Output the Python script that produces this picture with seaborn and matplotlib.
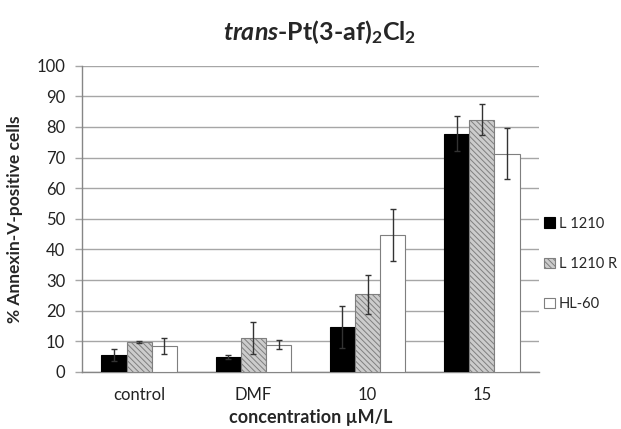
import matplotlib
matplotlib.use("Agg")
import matplotlib.pyplot as plt
import seaborn as sns
import pandas as pd
import numpy as np
from matplotlib.patches import Patch

categories = ["control", "DMF", "10", "15"]
series = ["L 1210", "L 1210 R", "HL-60"]
l1210 = [5.5, 4.8, 14.6, 77.8]
l1210_err = [2.0, 0.6, 6.8, 5.6]
l1210r = [9.9, 11.0, 25.4, 82.4]
l1210r_err = [0.3, 5.3, 6.4, 5.0]
hl60 = [8.5, 8.9, 44.7, 71.3]
hl60_err = [2.5, 1.5, 8.5, 8.3]
yticks = list(range(0, 101, 10))

sns.set_theme(style="white")
plt.rcParams['font.family'] = ['Lato', 'DejaVu Sans']
plt.rcParams['mathtext.fontset'] = 'custom'
plt.rcParams['mathtext.rm'] = 'Lato:bold'
plt.rcParams['mathtext.bf'] = 'Lato:bold'
plt.rcParams['mathtext.it'] = 'Lato:bold:italic'
plt.rcParams['hatch.color'] = '#454545'
plt.rcParams['hatch.linewidth'] = 0.7

rows = []
for s, vals, errs in zip(series, [l1210, l1210r, hl60], [l1210_err, l1210r_err, hl60_err]):
    for c, v, e in zip(categories, vals, errs):
        rows.append({"conc": c, "value": v, "err": e, "line": s})
df = pd.DataFrame(rows)

fig = plt.figure(figsize=(6.21, 4.29), dpi=100)
ax = fig.add_axes([0.132, 0.133, 0.736, 0.714])

colors = {"L 1210": "black", "L 1210 R": "#cccccc", "HL-60": "white"}
sns.barplot(data=df, x="conc", y="value", hue="line", order=categories,
            hue_order=series, palette=colors, errorbar=None, width=0.66,
            ax=ax, legend=False, zorder=3)

edgecols = ["black", "#7f7f7f", "#7f7f7f"]
hatches = [None, "\\\\\\\\\\\\", None]
for cont, s, ec, h in zip(ax.containers, series, edgecols, hatches):
    sub = df[df.line == s].set_index("conc").loc[categories]
    xs = []
    for bar in cont:
        bar.set_edgecolor(ec)
        bar.set_linewidth(0.8)
        if h:
            bar.set_hatch(h)
        xs.append(bar.get_x() + bar.get_width() / 2)
    ax.errorbar(xs, sub["value"].values, yerr=sub["err"].values, fmt="none",
                ecolor="#333333", elinewidth=1.0, capsize=2.5, capthick=1.0, zorder=4)

ax.set_xlim(-0.5, 3.5)
ax.set_ylim(0, 100)
ax.set_yticks(yticks)
ax.yaxis.grid(True, color="#a6a6a6", linewidth=1.0, zorder=0)
ax.set_axisbelow(True)
for sp in ["top", "right"]:
    ax.spines[sp].set_visible(False)
for sp in ["left", "bottom"]:
    ax.spines[sp].set_color("#868686")
    ax.spines[sp].set_linewidth(1.0)
ax.tick_params(axis="y", length=5, color="#a6a6a6", width=1, pad=7, labelsize=12, labelcolor="#222222", left=True)
ax.tick_params(axis="x", length=0, pad=11, labelsize=12, labelcolor="#222222")

ax.set_xlabel("concentration µM/L", fontsize=13, fontweight="bold", labelpad=4)
ax.set_ylabel("% Annexin-V-positive cells", fontsize=12.5, fontweight="bold", labelpad=10)

fig.text(0.515, 0.925, r"$\mathit{trans}\text{-Pt(3-af)}_{2}\text{Cl}_{2}$", ha="center", va="center", fontsize=18)

handles = [Patch(facecolor="black", edgecolor="black", linewidth=0.8),
           Patch(facecolor="#cccccc", edgecolor="#7f7f7f", hatch="\\\\\\\\\\\\", linewidth=0.8),
           Patch(facecolor="white", edgecolor="#7f7f7f", linewidth=0.8)]
leg = fig.legend(handles, series, loc="center left", bbox_to_anchor=(0.872, 0.385),
                 frameon=False, fontsize=10.5, handlelength=0.7, handleheight=0.7,
                 handletextpad=0.3, labelspacing=1.8, borderaxespad=0, borderpad=0.2)

fig.savefig("out.png", dpi=100)
